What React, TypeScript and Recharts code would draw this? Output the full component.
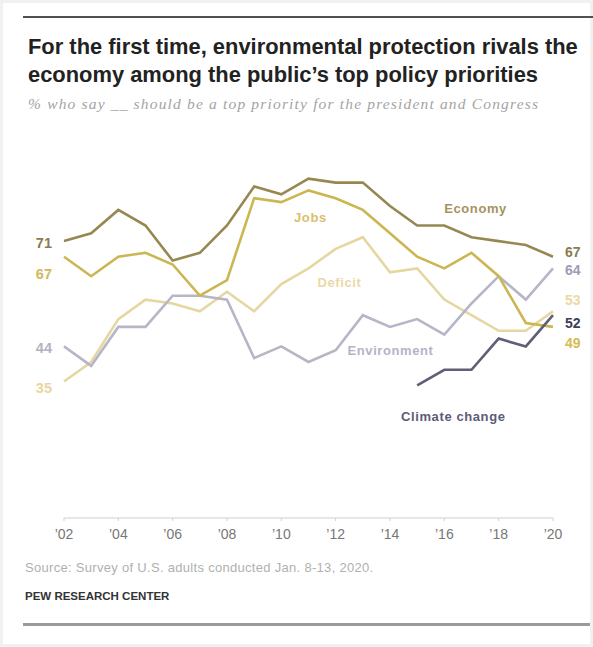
import React from 'react';
import { LineChart, Line, XAxis, YAxis, LabelList, ReferenceDot } from 'recharts';

const years = [2002, 2003, 2004, 2005, 2006, 2007, 2008, 2009, 2010, 2011, 2012, 2013, 2014, 2015, 2016, 2017, 2018, 2019, 2020];
const economy = [71, 73, 79, 75, 66, 68, 75, 85, 83, 87, 86, 86, 80, 75, 75, 72, 71, 70, 67];
const jobs = [67, 62, 67, 68, 65, 57, 61, 82, 81, 84, 82, 79, 73, 67, 64, 68, 62, 50, 49];
const deficit = [35, 40, 51, 56, 55, 53, 58, 53, 60, 64, 69, 72, 63, 64, 56, 52, 48, 48, 53];
const environment = [44, 39, 49, 49, 57, 57, 56, 41, 44, 40, 43, 52, 49, 51, 47, 55, 62, 56, 64];
const climate = [null, null, null, null, null, null, null, null, null, null, null, null, null, 34, 38, 38, 46, 44, 52];
const tickYears = [2002, 2004, 2006, 2008, 2010, 2012, 2014, 2016, 2018, 2020];

const seriesNames = {
  economy: 'Economy',
  jobs: 'Jobs',
  deficit: 'Deficit',
  environment: 'Environment',
  climate: 'Climate change',
};

const data = years.map((year, i) => ({
  year,
  economy: economy[i],
  jobs: jobs[i],
  deficit: deficit[i],
  environment: environment[i],
  climate: climate[i],
}));

// styling / annotation placement
const styles: Record<string, any> = {
  economy: { stroke: '#978851', text: '#a39560', left: { dy: 2, fill: '#8a7c50' }, right: { dy: -5, fill: '#8a7c50' }, name: { x: 2017.15, y: 79.5 } },
  jobs: { stroke: '#cbb652', text: '#d6c170', left: { dy: 17, fill: '#d2b85c' }, right: { dy: 16, fill: '#d6bb52' }, name: { x: 2011.07, y: 77.2 } },
  deficit: { stroke: '#e6d7a2', text: '#e9d9a8', left: { dy: 6, fill: '#ead6a0' }, right: { dy: -11, fill: '#ead9a6' }, name: { x: 2012.14, y: 60.5 } },
  environment: { stroke: '#b6b6c6', text: '#b4b4c6', left: { dy: 2, fill: '#b2b2be' }, right: { dy: 2, fill: '#9c9cb6' }, name: { x: 2014.02, y: 43.1 } },
  climate: { stroke: '#5f5f78', text: '#5c5c76', left: null, right: { dy: 8, fill: '#3e3e5a' }, name: { x: 2016.33, y: 26.0 } },
};

const FONT = '"Liberation Sans", Arial, sans-serif';

const endLabel = (key: string) => (props: any) => {
  const { x, y, index, value } = props;
  if (value == null) return null;
  const st = styles[key];
  if (index === 0 && st.left) {
    return (
      <text x={x - 12} y={y + st.left.dy} textAnchor="end" dominantBaseline="central" fill={st.left.fill} fontSize={14.5} fontWeight={700} fontFamily={FONT}>
        {value}
      </text>
    );
  }
  if (index === years.length - 1 && st.right) {
    return (
      <text x={x + 12} y={y + st.right.dy} textAnchor="start" dominantBaseline="central" fill={st.right.fill} fontSize={14} fontWeight={700} fontFamily={FONT}>
        {value}
      </text>
    );
  }
  return null;
};

const order = ['deficit', 'environment', 'jobs', 'economy', 'climate'];

export default function App() {
  return (
    <div style={{ position: 'absolute', left: 0, top: 0, width: 593, height: 647, background: '#f1f1f1', overflow: 'hidden', fontFamily: FONT }}>
      <div style={{ position: 'absolute', left: 3, top: 3, width: 587, height: 641, background: '#ffffff' }} />
      <div style={{ position: 'absolute', left: 23, top: 16, width: 570, height: 2, background: '#505050' }} />
      <div style={{ position: 'absolute', left: 28, top: 33, fontSize: 21.9, lineHeight: '28px', fontWeight: 700, color: '#222', whiteSpace: 'nowrap' }}>
        <div>For the first time, environmental protection rivals the</div>
        <div>economy among the public’s top policy priorities</div>
      </div>
      <div style={{ position: 'absolute', left: 28, top: 94, fontSize: 15.5, lineHeight: '19px', letterSpacing: 1.17, fontStyle: 'italic', color: '#a4a4a4', fontFamily: '"Liberation Serif", serif', whiteSpace: 'nowrap' }}>
        % who say __ should be a top priority for the president and Congress
      </div>
      <div style={{ position: 'absolute', left: 0, top: 0 }}>
        <LineChart width={593} height={647} data={data} margin={{ top: 128, right: 40, bottom: 99, left: 64 }}>
          <XAxis
            dataKey="year"
            type="number"
            domain={[2002, 2020]}
            ticks={tickYears}
            tickFormatter={(v: number) => '\u2019' + String(v).slice(2)}
            axisLine={{ stroke: '#cfcfcf' }}
            tickLine={{ stroke: '#cfcfcf' }}
            tickSize={3}
            tickMargin={8}
            height={30}
            tick={{ fill: '#777', fontSize: 14, fontFamily: FONT }}
          />
          <YAxis hide width={0} domain={[0, 100]} type="number" />
          {order.map((key) => (
            <Line
              key={key}
              type="linear"
              dataKey={key}
              stroke={styles[key].stroke}
              strokeWidth={2.6}
              dot={false}
              activeDot={false}
              isAnimationActive={false}
              connectNulls={false}
            >
              <LabelList dataKey={key} content={endLabel(key)} />
            </Line>
          ))}
          {order.map((key) => (
            <ReferenceDot
              key={'n' + key}
              x={styles[key].name.x}
              y={styles[key].name.y}
              r={0}
              stroke="none"
              fill="none"
              label={{ value: (seriesNames as any)[key], position: 'center', fill: styles[key].text, fontSize: 13, fontWeight: 700, fontFamily: FONT, letterSpacing: 0.6 }}
            />
          ))}
        </LineChart>
      </div>
      <div style={{ position: 'absolute', left: 25, top: 561, fontSize: 13, lineHeight: '14px', letterSpacing: 0.3, color: '#b0b0b0', whiteSpace: 'nowrap' }}>
        Source: Survey of U.S. adults conducted Jan. 8-13, 2020.
      </div>
      <div style={{ position: 'absolute', left: 25, top: 589, fontSize: 11.5, lineHeight: '14px', fontWeight: 700, color: '#333', whiteSpace: 'nowrap' }}>
        PEW RESEARCH CENTER
      </div>
      <div style={{ position: 'absolute', left: 23, top: 623, width: 567, height: 3, background: '#9a9a9a' }} />
    </div>
  );
}
